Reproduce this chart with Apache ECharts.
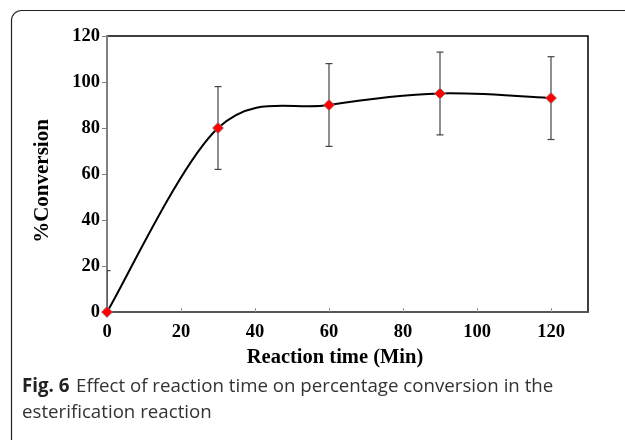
<!DOCTYPE html>
<html>
<head>
<meta charset="utf-8">
<script src="https://cdn.jsdelivr.net/npm/echarts@6/dist/echarts.min.js"></script>
<style>
html,body{margin:0;padding:0;background:#fff;}
#chart{width:625px;height:440px;}
</style>
</head>
<body>
<div id="chart"></div>
<script>
const times = [0, 30, 60, 90, 120];
const conversion = [0, 80, 90, 95, 93];
const errors = [18, 18, 18, 18, 18];
const xTitle = 'Reaction time (Min)';
const yTitle = '%Conversion';
const captionBold = 'Fig. 6';
const captionLine1 = 'Effect of reaction time on percentage conversion in the';
const captionLine2 = 'esterification reaction';

const chart = echarts.init(document.getElementById('chart'), null, {renderer: 'canvas'});
const pts = times.map((t, i) => [t, conversion[i]]);
const errData = times.map((t, i) => [t, conversion[i] - errors[i], conversion[i] + errors[i]]);
const tickFont = {fontFamily: 'Liberation Serif', fontWeight: 'bold', fontSize: 18.5, color: '#000'};

// Smooth curve (Catmull-Rom style Bezier) through the data points, positioned by the axes
function curveItem(params, api) {
  const i = params.dataIndex;
  if (i >= pts.length - 1) return null;
  const P = pts.map(p => api.coord(p));
  const p0 = P[Math.max(i - 1, 0)], p1 = P[i], p2 = P[i + 1], p3 = P[Math.min(i + 2, P.length - 1)];
  const k = 1 / 6;
  return {
    type: 'bezierCurve',
    shape: {
      x1: p1[0], y1: p1[1], x2: p2[0], y2: p2[1],
      cpx1: p1[0] + (p2[0] - p0[0]) * k, cpy1: p1[1] + (p2[1] - p0[1]) * k,
      cpx2: p2[0] - (p3[0] - p1[0]) * k, cpy2: p2[1] - (p3[1] - p1[1]) * k
    },
    style: {fill: null, stroke: '#000', lineWidth: 2}
  };
}

chart.setOption({
  animation: false,
  grid: {left: 107, top: 36, right: 37, bottom: 128, show: true, borderColor: '#000', borderWidth: 1.5, backgroundColor: 'transparent'},
  xAxis: {
    type: 'value', min: 0, max: 130, interval: 20,
    axisLine: {show: true, lineStyle: {color: '#555', width: 2}},
    axisTick: {show: true, inside: true, length: 4, lineStyle: {color: '#999'}},
    splitLine: {show: false},
    axisLabel: Object.assign({margin: 11, showMaxLabel: false}, tickFont)
  },
  yAxis: {
    type: 'value', min: 0, max: 120, interval: 20,
    axisLine: {show: true, lineStyle: {color: '#808080', width: 2}},
    axisTick: {show: true, inside: false, length: 5, lineStyle: {color: '#808080'}},
    splitLine: {show: false},
    axisLabel: Object.assign({margin: 7}, tickFont)
  },
  series: [
    {
      type: 'custom',
      clip: true,
      z: 3,
      data: errData,
      renderItem: function (params, api) {
        const x = api.coord([api.value(0), 0])[0];
        const lo = api.coord([api.value(0), api.value(1)])[1];
        const hi = api.coord([api.value(0), api.value(2)])[1];
        const w = 3.5;
        const st = {stroke: '#444', lineWidth: 1.2};
        return {
          type: 'group',
          children: [
            {type: 'line', shape: {x1: x, y1: lo, x2: x, y2: hi}, style: st},
            {type: 'line', shape: {x1: x - w, y1: lo, x2: x + w, y2: lo}, style: st},
            {type: 'line', shape: {x1: x - w, y1: hi, x2: x + w, y2: hi}, style: st}
          ]
        };
      }
    },
    {
      type: 'custom',
      clip: false,
      z: 4,
      data: pts,
      renderItem: curveItem
    },
    {
      type: 'scatter',
      data: pts,
      z: 5,
      clip: false,
      symbol: 'diamond',
      symbolSize: 11,
      itemStyle: {color: '#ff0000', borderColor: '#888', borderWidth: 0.8, opacity: 1}
    }
  ],
  graphic: [
    {type: 'rect', shape: {x: 11.5, y: 10.5, width: 700, height: 500, r: 10}, style: {fill: 'transparent', stroke: '#222', lineWidth: 1.2}, z: 0, silent: true},
    {type: 'text', x: 43, y: 181, rotation: Math.PI / 2, style: {text: yTitle, fontFamily: 'Liberation Serif', fontWeight: 'bold', fontSize: 21, fill: '#000', align: 'center', verticalAlign: 'middle'}},
    {type: 'text', x: 335, y: 358, style: {text: xTitle, fontFamily: 'Liberation Serif', fontWeight: 'bold', fontSize: 20.5, fill: '#000', align: 'center', verticalAlign: 'middle'}},
    {type: 'text', x: 22, y: 387, style: {
      text: '{b|' + captionBold + '}  {r|' + captionLine1 + '}',
      verticalAlign: 'middle',
      rich: {
        b: {fontFamily: 'Open Sans', fontWeight: 'bold', fontSize: 18.7, fill: '#222'},
        r: {fontFamily: 'Open Sans', fontSize: 18.7, fill: '#333'}
      }
    }},
    {type: 'text', x: 22, y: 413, style: {text: captionLine2, fontFamily: 'Open Sans', fontSize: 18.7, fill: '#333', verticalAlign: 'middle'}}
  ]
});
</script>
</body>
</html>
